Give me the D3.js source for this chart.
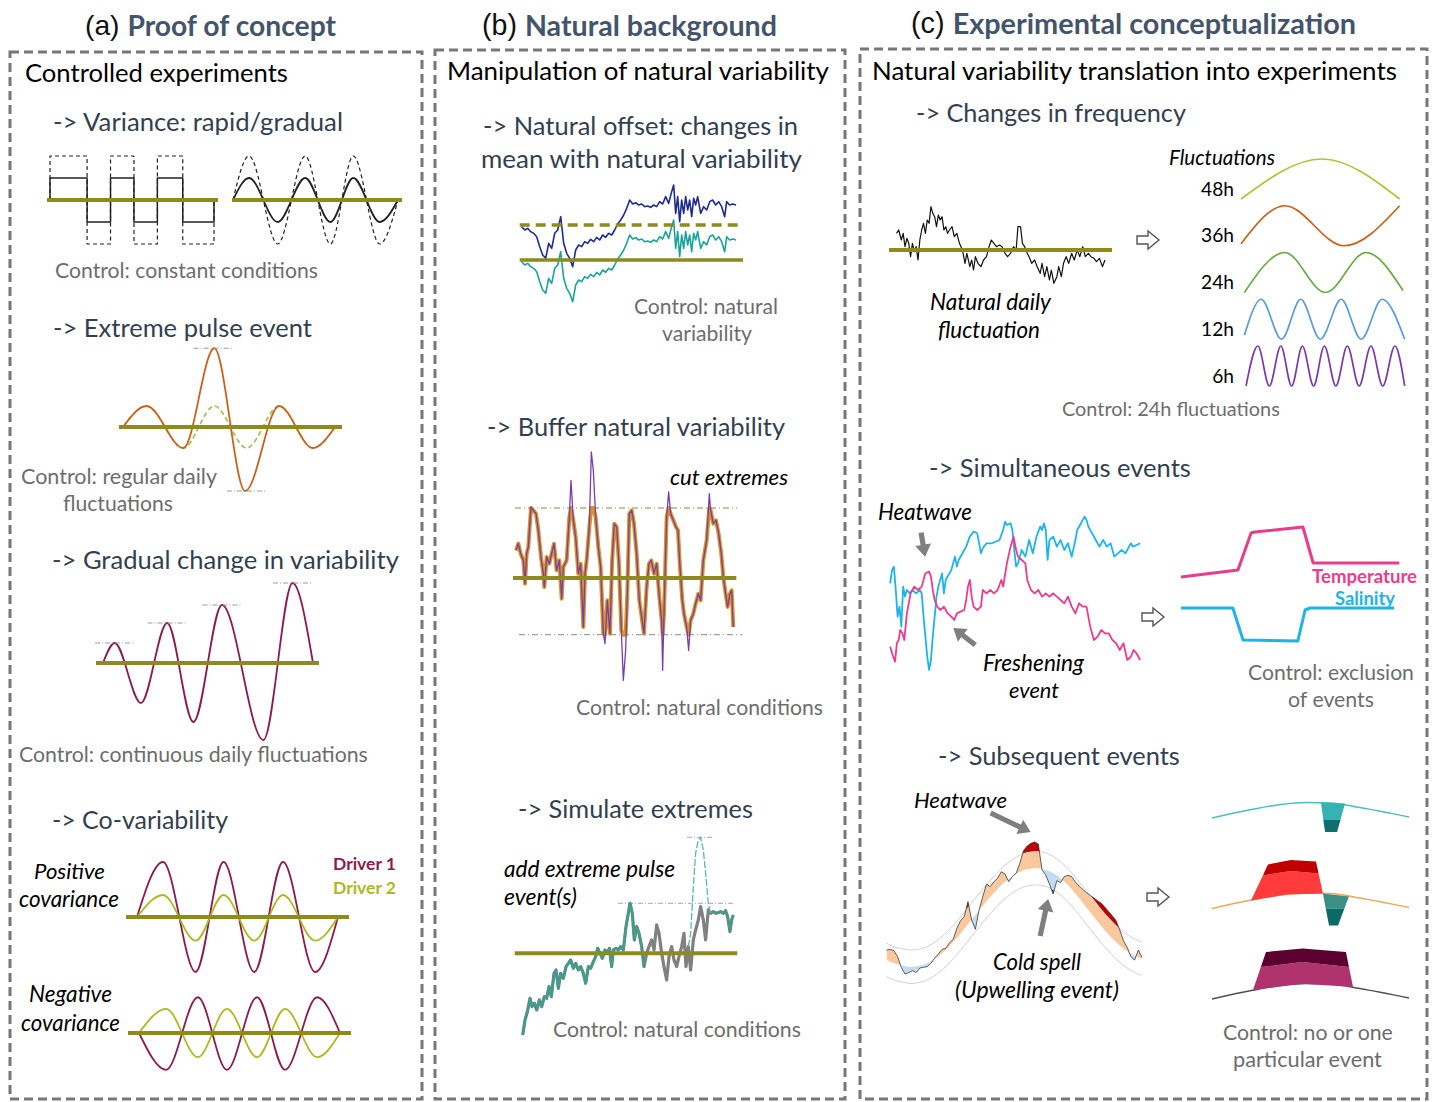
<!DOCTYPE html>
<html>
<head>
<meta charset="utf-8">
<script src="https://d3js.org/d3.v7.min.js"></script>
<style>
body { margin: 0; background: #fff; }
</style>
</head>
<body>
<svg id="fig" width="1432" height="1102"></svg>
<script>
// ---------------- data ----------------

// (a) variance: step levels and sine extremes (hours, level)
var squareSteps = [[0,0],[0,1],[9.5,-1],[15.5,1],[21.5,-1],[27.5,1],[34,-1],[42,0]];
var sineKeys = [[0,0],[7,1],[19.5,-1],[31.5,1],[42.5,-1],[52.5,1],[64,-1],[72,0]];
var varianceFactor = 2;

// (a) extreme pulse event
var pulseRegular = [[0,0],[8,1],[20.5,-1],[31,1],[42,-1],[53,1],[64.5,-1],[72,0]];
var pulseExtreme = [[0,0],[8,1],[20.5,-1],[31,3.75],[41.5,-3.05],[53,1],[64.5,-1],[72,0]];

// (a) gradual change in variability
var gradualKeys = [[0,0],[4,1],[13,-2],[22,2],[31,-2.95],[40.8,2.9],[55,-3.85],[65,4],[72,0]];

// (a) co-variability
var covPosD1 = [[0,0],[9.3,1],[21,-1],[31,1],[42,-1],[52.3,1],[63.8,-1],[72,0]];
var covPosD2 = [[0,0],[9.3,0.4],[21,-0.43],[31,0.4],[42,-0.43],[52.3,0.4],[63.8,-0.43],[72,0]];
var covNegD1 = [[0,0],[9.7,-0.67],[21.1,0.65],[31.5,-0.67],[42.3,0.65],[52.3,-0.67],[63.8,0.65],[72,0]];
var covNegD2 = [[0,0],[9.7,0.44],[21.1,-0.44],[31.5,0.44],[42.3,-0.44],[52.3,0.44],[63.8,-0.44],[72,0]];

// (b) natural offset: natural record (hours, value); shifted copy = record - offset
var offsetSeries = [[0,10],[9,9],[18,9.5],[27,8.5],[36,8],[45,7],[54,4],[63,1.5],[72,0.5],[81,5],[90,3.5],[99,8],[108,9],[117,13],[126,5],[135,2],[144,0.5],[153,-2],[162,3],[171,4.5],[180,4],[189,5.5],[198,5],[207,6.2],[216,5.5],[225,6.8],[234,6],[243,7.5],[252,6.8],[261,8],[270,7.5],[279,9],[288,10.8],[297,12],[306,13.5],[315,15.5],[324,18],[333,16.8],[342,17.2],[351,16.5],[360,16.8],[369,16],[378,16.2],[387,15.8],[396,16.5],[405,16],[414,17.5],[423,16.8],[432,19],[441,17],[450,20.5],[456,22.5],[462,14],[468,19],[474,11.5],[480,18],[486,14],[492,19],[498,15],[504,18],[510,13],[516,18.5],[522,16.5],[528,19],[537,14],[546,16],[555,15],[564,17.5],[573,18],[582,16.5],[591,17.5],[600,16],[609,13],[615,17.5],[624,16.5],[633,16.8],[643,16.5]];
var naturalOffset = 10.5;

// (b) buffer natural variability
var bufferSeries = [[0,8.3],[7,10.3],[14,7.3],[22,5.3],[27,-1.7],[32,7.3],[37,9.3],[45,21.3],[52,20.3],[60,19.3],[67,14.3],[75,6.3],[82,1.3],[85,-2.7],[92,6.3],[100,4.3],[107,7.3],[114,10.3],[122,2.3],[130,5.3],[137,-6.2],[142,3.3],[152,5.3],[160,18.3],[165,29.3],[172,17.3],[179,12.3],[187,1.3],[194,4.3],[202,-14.7],[207,1.3],[212,5.3],[220,15.3],[226,37.8],[232,32.3],[239,18.3],[247,9.3],[254,3.3],[262,-16.7],[267,-19.7],[274,-6.7],[282,-16.7],[288,4.3],[295,16.3],[302,15.3],[309,4.3],[316,-15.7],[322,-30.7],[329,-21.7],[334,-4.7],[340,19.3],[347,20.3],[354,16.3],[362,7.3],[370,-6.7],[377,-11.7],[384,-16.7],[392,-2.7],[399,4.3],[406,5.3],[414,1.3],[422,4.3],[430,-5.7],[437,-12.7],[440,-27.7],[444,-10.7],[452,18.3],[458,25.8],[464,19.3],[472,17.3],[480,15.3],[486,14.3],[492,3.3],[499,-6.7],[504,-10.7],[512,-14.7],[518,-21.7],[524,-12.7],[532,-10.7],[539,-7.7],[547,-4.7],[554,-6.7],[562,5.3],[572,11.3],[580,25.3],[584,20.3],[592,16.3],[600,17.3],[608,13.3],[616,7.3],[622,0.3],[629,-4.7],[635,-8.7],[642,-4.7],[647,-3.7],[652,-14.7]];
var cutHigh = 21, cutLow = -17;

// (b) simulate extremes
var simNatural = [[0,-24.5],[7,-20],[14,-17.5],[22,-13.5],[28,-16],[35,-15],[42,-17],[50,-14],[57,-16],[65,-13],[72,-13.5],[79,-10],[86,-13],[94,-6],[100,-5],[107,-10.5],[114,-6],[122,-7.5],[130,-4],[137,-3],[144,-2],[152,-4.5],[159,-3],[167,-5],[174,-4],[182,-6],[189,-9],[197,-4],[204,-4.5],[212,-2.5],[219,-1],[225,1.5],[232,0],[239,-1.5],[247,1],[254,0],[260,1.5],[267,-4],[272,1],[280,1.5],[287,1],[294,2],[302,1],[310,8],[317,12],[322,15],[329,12],[335,4],[342,8],[349,6],[357,2],[364,-4],[372,0],[379,2],[387,4],[394,1],[402,8.5],[409,6],[417,0],[424,-4],[432,-8],[439,-1],[447,2],[454,-2],[462,-4],[469,-1],[477,2],[484,6],[490,-4],[497,2],[504,-5],[512,4],[519,7],[527,10],[534,14],[542,10],[549,4],[557,13],[564,12],[572,12.5],[580,12],[587,12.2],[594,12.5],[602,12],[609,12.8],[615,11],[622,6.5],[627,10],[632,11.5]];
var simPulse = [[497,2],[504,6],[512,20],[519,30],[527,34],[534,34.8],[542,31],[549,24],[557,15],[564,12]];

// (c) natural daily fluctuation
var natDaily = [[0,5],[6,6],[13,3],[18,5],[23,1],[28,3.5],[33,2],[38,-2],[43,2],[48,-0.5],[53,1],[58,-3],[63,3],[68,6],[73,8],[78,5],[83,9],[88,8],[93,13],[98,11],[103,10],[108,7],[113,10.5],[118,9],[123,10],[128,6],[133,7],[138,5],[143,6],[150,7],[156,4],[163,5],[170,2],[178,0],[185,-4],[190,-1],[198,-5],[203,-3],[208,-6],[213,-2],[220,-4],[228,-5],[235,-3],[243,-2],[250,1],[256,3],[263,2],[270,1],[278,1.5],[285,1],[293,-1],[300,-2],[308,-1],[316,1],[323,0],[328,7],[335,7],[340,2],[346,1],[353,-1],[358,-2],[365,-4],[373,-3],[380,-5],[388,-7],[393,-4],[400,-8],[406,-5],[413,-9],[418,-6],[425,-10],[433,-8],[438,-5],[445,-8],[451,-4],[458,-2],[465,-4],[473,-1],[480,-3],[488,0],[495,-2],[503,1],[510,-2],[518,-1],[525,-2],[533,-2.5],[540,-3.5],[548,-2.5],[556,-5],[563,-3]];

// (c) fluctuation periods, extremes in hours
var freqLabels = ["48h", "36h", "24h", "12h", "6h"];
var freqKeys = [
  [[0,-1],[24,1],[47,-1]],
  [[0,-0.9],[13,1],[30.5,-1],[47,1]],
  [[1,-1],[13,1],[25,-1],[37,1],[48,-0.9]],
  [[1,-0.8],[6,1],[12,-1],[17.7,1],[23.5,-1],[29.7,1],[35.6,-1],[41.8,1],[48.5,-1]],
  [[1.5,-1],[5,1],[8.4,-1],[11.8,1],[15,-1],[18.2,1],[21.5,-1],[24.7,1],[28.1,-1],[31.5,1],[35,-1],[38.5,1],[42,-1],[45.6,1],[48.5,-1]]
];

// (c) simultaneous events
var simulSalinity = [[0,24],[5,28],[10,29],[15,22],[20,14],[25,17],[30,11],[35,23],[40,20],[45,22],[53,21],[60,22],[70,21],[80,22],[85,21],[90,14],[95,8],[100,2],[105,-2],[110,1],[115,8],[120,14],[125,20],[130,23],[135,25],[140,27],[145,21],[150,25],[155,26],[165,28],[170,30],[175,32],[180,29],[185,31],[195,33],[205,35],[215,38],[225,39.5],[235,39],[240,36],[245,33],[250,34.5],[260,36],[275,36],[295,37],[305,40],[310,42.5],[315,41.5],[325,42],[330,40],[335,34],[340,29],[345,30],[350,32],[355,34],[365,32],[375,37],[385,33],[395,38],[405,41],[410,40],[415,42],[420,40],[425,31],[430,37],[440,38],[450,35],[460,37],[470,34],[480,36],[490,32],[500,37],[505,40],[515,42],[525,44],[530,43],[535,41],[545,39],[555,37],[565,35],[575,37],[585,35],[595,36],[605,32],[615,33],[625,34],[635,33],[645,35],[650,36],[655,35],[665,35.5],[675,36]];
var simulTemperature = [[0,5],[5,3],[13,0.5],[18,6],[23,7],[27,10],[33,9],[38,7],[45,15],[55,21],[65,23],[75,22],[85,23],[95,27],[105,27.5],[110,26],[115,22],[120,19],[127,17],[135,16],[145,17],[155,15],[165,14],[173,13],[180,15],[190,15.5],[200,16],[205,19],[210,23],[215,25],[220,20],[225,17],[235,16],[245,17],[250,22],[260,21],[270,22],[280,21],[290,22],[300,25],[305,23],[315,30],[325,35],[333,38],[340,34],[345,32],[355,31],[365,30],[370,25],[380,22],[390,21],[400,22],[410,20],[420,21],[430,20],[440,21],[450,20],[460,19],[470,18],[480,20],[490,17],[500,15],[510,18],[520,17],[530,17],[540,11],[550,7],[560,8],[570,10],[580,9],[590,9],[600,7],[610,6],[620,4],[630,6],[640,1],[650,2],[657,4],[665,3],[675,1]];
var ctrlTemperature = [[0,2.3],[7.8,3.0],[9.6,6.7],[10.1,6.8],[16.7,7.3],[18.1,3.7],[29.9,3.7]];
var ctrlSalinity = [[0,-0.8],[7.1,-0.8],[8.5,-4],[16,-4.1],[17,-1],[17.7,-0.8],[29.2,-0.8]];

// (c) subsequent events: observed record and climatology, one value every 10 h
var subStep = 10;
var subObs = [6,6.2,5.8,4,0.8,-1.2,-0.8,-0.2,-0.8,0.6,0.8,1,2,3.6,4.8,6.2,6.5,8.2,9.2,12.5,14.8,16,20.5,15,12.2,18,22,25.8,25,26.5,27.5,29.5,28.8,26.5,28,29,32,35.8,37.2,38,38.4,37.8,30,28.5,25.8,22.8,26.8,26.2,28,28.4,28,26.4,25.2,24.2,23.2,22.4,21.6,20.8,20,18.8,17.5,16.2,14.8,12,8.8,6.8,4,3,6,3.8];
var subClim = [3,2.5,2,1.7,1.4,1.2,1,1,1.1,1.3,1.6,2,2.6,3.3,4.1,5,6,7.1,8.3,9.6,10.9,12.3,13.7,15.1,16.5,17.9,19.3,20.6,21.9,23.1,24.3,25.4,26.4,27.3,28.1,28.8,29.4,29.9,30.2,30.4,30.5,30.5,30.4,30.1,29.7,29.1,28.4,27.5,26.5,25.4,24.2,22.9,21.5,20.1,18.7,17.3,15.9,14.5,13.1,11.8,10.6,9.4,8.3,7.3,6.4,5.6,4.9,4.3,3.8,3.4];
var heatThreshold = 5, coldThreshold = -5;

// (c) control scenarios for subsequent events
var ctrlRows = ["cold", "heat+cold", "heat"];
var ctrlArc = [[0,0],[20,8.5],[35,13.5],[48,15.5],[60,15],[75,10.5],[100,1]];
var ctrlEvents = [
  {row: "cold", kind: "cold", light: [[55.3,15.5],[67.5,14.5],[65.2,-2],[56.5,-2]], dark: [[56.5,-2],[65.2,-2],[63.5,-14],[57.4,-14]]},
  {row: "heat+cold", kind: "heat", light: [[19.8,8],[38,14],[56.3,15],[54.1,35],[40,37.5],[25.8,33]], dark: [[25.8,33],[40,37.5],[54.1,35],[52.8,47],[40,48.5],[28.4,44]]},
  {row: "heat+cold", kind: "cold2", light: [[56.3,15],[69.5,12],[67.2,0],[57.75,0]], dark: [[57.75,0],[67.2,0],[64,-17],[59.4,-17]]},
  {row: "heat", kind: "purple", light: [[20.8,9],[46,15.3],[71.6,12],[69.5,32],[46,37],[24.8,32]], dark: [[24.8,32],[46,37],[69.5,32],[68,47],[46,50.5],[27.4,47]]}
];

// ---------------- styles ----------------
var FONT = "Lato, 'Open Sans', 'DejaVu Sans', sans-serif";
var C = {
  olive: "#8c8b1b", maroon: "#8b1c4e", drv2: "#a9ba1f", pulse: "#c8621a", regular: "#9cbf4f",
  navy: "#1f2b8e", teal: "#1aa29d", purple: "#7a3cb0", gold: "#d8961f",
  simGray: "#808080", simTeal: "#3e9d8b", cyan: "#1eb4ea", pink: "#eb3c8c",
  peach: "#f9c99d", heat: "#c00000", coolFill: "#c4dcf0", coolDark: "#1c3c96",
  head: "#44546a", sub: "#333f50", ctrl: "#6d6d6d", box: "#777777"
};
var freqColors = ["#a9c536", "#c8621c", "#6aaa44", "#5b9bd5", "#7b3aa8"];
var eventColors = {
  cold: ["#36b2b2", "#0f6e6e"], cold2: ["#3a8f86", "#0b6a66"],
  heat: ["#ff3b3b", "#c00000"], purple: ["#b0336f", "#5c0030"]
};
var rowLine = {"cold": "#4dbdbd", "heat+cold": "#f0a65c", "heat": "#505050"};

var svg = d3.select("#fig");

// ---------------- helpers ----------------
function lin(d0, d1, r0, r1) { return d3.scaleLinear().domain([d0, d1]).range([r0, r1]); }

function plot(data, xs, ys, o) {
  var gen = d3.line().x(function(d) { return xs(d[0]); }).y(function(d) { return ys(d[1]); })
    .curve(o.curve || d3.curveLinear);
  return svg.append("path").datum(data).attr("d", gen).attr("fill", "none")
    .attr("stroke", o.color).attr("stroke-width", o.width || 1.5)
    .attr("stroke-dasharray", o.dash || null)
    .attr("stroke-linejoin", "round")
    .attr("opacity", o.opacity || 1);
}

function rule(xs, ys, v, pad0, pad1, o) {
  var r = xs.range();
  return svg.append("line").attr("x1", r[0] - pad0).attr("x2", r[1] + pad1)
    .attr("y1", ys(v)).attr("y2", ys(v))
    .attr("stroke", o.color).attr("stroke-width", o.width)
    .attr("stroke-dasharray", o.dash || null);
}

function refMark(xs, ys, t0, t1, v, color) {
  svg.append("line").attr("x1", xs(t0)).attr("x2", xs(t1)).attr("y1", ys(v)).attr("y2", ys(v))
    .attr("stroke", color || "#9a9a9a").attr("stroke-width", 1).attr("stroke-dasharray", "5 2 1 2");
}

function fitText(sel, w) {
  var s = +sel.attr("font-size");
  var L = sel.node().getComputedTextLength();
  if (L > 0) sel.attr("font-size", (s * w / L).toFixed(2));
}

function label(x, cy, s, w, o) {
  o = o || {};
  var t = svg.append("text")
    .attr("x", x).attr("y", cy)
    .attr("dominant-baseline", "central")
    .attr("text-anchor", o.anchor || "start")
    .attr("font-family", FONT)
    .attr("font-size", o.size || 20)
    .attr("font-style", o.italic ? "italic" : "normal")
    .attr("font-weight", o.bold ? "bold" : "normal")
    .attr("fill", o.color || "#000")
    .text(s);
  if (w) fitText(t, w);
  return t;
}

function title(x, cy, pre, main, w) {
  var t = svg.append("text").attr("x", x).attr("y", cy)
    .attr("dominant-baseline", "central").attr("font-size", 28);
  t.append("tspan").attr("font-family", "'Liberation Sans', Arial, sans-serif").attr("fill", "#111").text(pre + " ");
  t.append("tspan").attr("font-family", FONT).attr("font-weight", "bold").attr("fill", C.head).text(main);
  fitText(t, w);
}

function pointer(tip, tail) {
  var dx = tip[0] - tail[0], dy = tip[1] - tail[1], L = Math.hypot(dx, dy);
  var ux = dx / L, uy = dy / L, px = -uy, py = ux;
  var hl = 12, hw = 8, sw = 2.6;
  var bx = tip[0] - ux * hl, by = tip[1] - uy * hl;
  var pts = [[tail[0] + px * sw, tail[1] + py * sw], [bx + px * sw, by + py * sw], [bx + px * hw, by + py * hw],
    tip, [bx - px * hw, by - py * hw], [bx - px * sw, by - py * sw], [tail[0] - px * sw, tail[1] - py * sw]];
  svg.append("polygon").attr("points", pts.map(function(p) { return p.join(","); }).join(" ")).attr("fill", "#7f7f7f");
}

function blockArrow(x, y) {
  var pts = [[x, y - 4], [x + 11, y - 4], [x + 11, y - 9], [x + 22, y], [x + 11, y + 9], [x + 11, y + 4], [x, y + 4]];
  svg.append("polygon").attr("points", pts.map(function(p) { return p.join(","); }).join(" "))
    .attr("fill", "#fff").attr("stroke", "#555").attr("stroke-width", 1.4);
}

function scaled(arr, f) { return arr.map(function(d) { return [d[0], d[1] * f]; }); }

// ---------------- panel frames ----------------
[[10, 52, 412, 1047], [435, 50, 410, 1049], [860, 49, 567, 1050]].forEach(function(b) {
  svg.append("rect").attr("x", b[0]).attr("y", b[1]).attr("width", b[2]).attr("height", b[3])
    .attr("fill", "none").attr("stroke", C.box).attr("stroke-width", 3).attr("stroke-dasharray", "9 5");
});

title(85, 25, "(a)", "Proof of concept", 251);
title(482, 25, "(b)", "Natural background", 295);
title(911, 23, "(c)", "Experimental conceptualization", 445);

label(25, 72, "Controlled experiments", 263);
label(447, 70, "Manipulation of natural variability", 382);
label(872, 70, "Natural variability translation into experiments", 525);

// ---------------- (a) variance ----------------
var xSq = lin(0, 42, 50, 214), xSn = lin(0, 72, 233, 398), yVar = lin(0, 1, 200, 178);
plot(scaled(squareSteps, varianceFactor), xSq, yVar, {color: "#222", width: 1.2, dash: "4 3", curve: d3.curveStepAfter});
plot(squareSteps, xSq, yVar, {color: "#222", width: 1.5, curve: d3.curveStepAfter});
plot(scaled(sineKeys, varianceFactor), xSn, yVar, {color: "#222", width: 1.2, dash: "4 3", curve: d3.curveMonotoneX});
plot(sineKeys, xSn, yVar, {color: "#222", width: 1.8, curve: d3.curveMonotoneX});
rule(xSq, yVar, 0, 3, 4, {color: C.olive, width: 4});
rule(xSn, yVar, 0, 1, 4, {color: C.olive, width: 4});
label(53, 121, "-> Variance: rapid/gradual", 290, {color: C.sub});
label(55, 270, "Control: constant conditions", 263, {color: C.ctrl});

// ---------------- (a) extreme pulse ----------------
var xPu = lin(0, 72, 123, 335), yPu = lin(0, 1, 427, 406);
plot(pulseRegular, xPu, yPu, {color: C.regular, width: 1.6, dash: "5 3", curve: d3.curveMonotoneX});
plot(pulseExtreme, xPu, yPu, {color: C.pulse, width: 1.8, curve: d3.curveMonotoneX});
rule(xPu, yPu, 0, 4, 7, {color: C.olive, width: 4});
refMark(xPu, yPu, 24, 37.5, d3.max(pulseExtreme, function(d) { return d[1]; }));
refMark(xPu, yPu, 35.3, 48.6, d3.min(pulseExtreme, function(d) { return d[1]; }));
label(53, 327, "-> Extreme pulse event", 259, {color: C.sub});
label(21, 476, "Control: regular daily", 196, {color: C.ctrl});
label(63, 503, "fluctuations", 110, {color: C.ctrl});

// ---------------- (a) gradual change ----------------
var xGr = lin(0, 72, 103, 313), yGr = lin(0, 1, 663, 643);
plot(gradualKeys, xGr, yGr, {color: C.maroon, width: 1.8, curve: d3.curveMonotoneX});
rule(xGr, yGr, 0, 7, 6, {color: C.olive, width: 4});
gradualKeys.filter(function(d) { return d[1] > 0; }).forEach(function(d) { refMark(xGr, yGr, d[0] - 6.7, d[0] + 6.7, d[1]); });
label(52, 559, "-> Gradual change in variability", 347, {color: C.sub});
label(19, 754, "Control: continuous daily fluctuations", 349, {color: C.ctrl});

// ---------------- (a) co-variability ----------------
var xCp = lin(0, 72, 137, 338), yCp = lin(0, 1, 917, 862);
var xCn = lin(0, 72, 139, 340), yCn = lin(0, 1, 1033, 978);
plot(covPosD1, xCp, yCp, {color: C.maroon, width: 1.8, curve: d3.curveMonotoneX});
plot(covPosD2, xCp, yCp, {color: C.drv2, width: 1.8, curve: d3.curveMonotoneX});
plot(covNegD1, xCn, yCn, {color: C.maroon, width: 1.8, curve: d3.curveMonotoneX});
plot(covNegD2, xCn, yCn, {color: C.drv2, width: 1.8, curve: d3.curveMonotoneX});
rule(xCp, yCp, 0, 11, 11, {color: C.olive, width: 4});
rule(xCn, yCn, 0, 11, 11, {color: C.olive, width: 4});
label(52, 819, "-> Co-variability", 176, {color: C.sub});
label(34, 870, "Positive", 71, {italic: true});
label(19, 898, "covariance", 100, {italic: true});
label(29, 993, "Negative", 83, {italic: true});
label(21, 1022, "covariance", 99, {italic: true});
label(333, 863, "Driver 1", 63, {bold: true, color: C.maroon});
label(333, 887, "Driver 2", 63, {bold: true, color: C.drv2});

// ---------------- (b) natural offset ----------------
var xOf = lin(0, 643, 521.7, 736), yOf = lin(0, 3, 260, 250);
plot(offsetSeries, xOf, yOf, {color: C.navy, width: 1.6});
plot(offsetSeries.map(function(d) { return [d[0], d[1] - naturalOffset]; }), xOf, yOf, {color: C.teal, width: 1.6});
rule(xOf, yOf, naturalOffset, 2, 7, {color: C.olive, width: 3.5, dash: "10 6"});
rule(xOf, yOf, 0, 2, 7, {color: C.olive, width: 3.5});
label(483, 125, "-> Natural offset: changes in", 315, {color: C.sub});
label(481, 158, "mean with natural variability", 321, {color: C.sub});
label(634, 305, "Control: natural", 144, {color: C.ctrl});
label(662, 333, "variability", 90, {color: C.ctrl});

// ---------------- (b) buffer ----------------
var xBu = lin(0, 652, 516, 733.3), yBu = lin(0, 3, 578, 568);
rule(xBu, yBu, cutHigh, 1, 4, {color: "#8a8a45", width: 1.2, dash: "6 3 1 3"});
rule(xBu, yBu, cutLow, -3, 9, {color: "#a0a0a0", width: 1.2, dash: "6 3 1 3"});
plot(bufferSeries.map(function(d) { return [d[0], Math.max(cutLow, Math.min(cutHigh, d[1]))]; }), xBu, yBu, {color: C.gold, width: 4});
plot(bufferSeries, xBu, yBu, {color: C.purple, width: 1.3});
rule(xBu, yBu, 0, 3, 3, {color: C.olive, width: 4});
label(487, 426, "-> Buffer natural variability", 298, {color: C.sub});
label(670, 476, "cut extremes", 118, {italic: true});
label(576, 707, "Control: natural conditions", 247, {color: C.ctrl});

// ---------------- (b) simulate extremes ----------------
var xSm = lin(0, 632, 522.7, 733.3), ySm = lin(0, 3, 953.3, 943.3);
var natMax = d3.max(simNatural, function(d) { return d[1]; });
var pulseMax = d3.max(simPulse, function(d) { return d[1]; });
refMark(xSm, ySm, 286, 637, natMax, "#a8a8a8");
refMark(xSm, ySm, 493, 568, pulseMax, "#a8a8a8");
plot(simNatural, xSm, ySm, {color: C.simGray, width: 3.2});
plot(simNatural.filter(function(d) { return d[0] <= 364; }), xSm, ySm, {color: C.simTeal, width: 2.4});
plot(simNatural.filter(function(d) { return d[0] >= 564; }), xSm, ySm, {color: C.simTeal, width: 2.2, opacity: 0.85});
plot(simPulse, xSm, ySm, {color: "#5cb8a8", width: 1.3, dash: "7 2"});
rule(xSm, ySm, 0, 8, 4, {color: C.olive, width: 4});
label(518, 808, "-> Simulate extremes", 235, {color: C.sub});
label(504, 868, "add extreme pulse", 171, {italic: true});
label(504, 896, "event(s)", 73, {italic: true});
label(553, 1029, "Control: natural conditions", 248, {color: C.ctrl});

// ---------------- (c) changes in frequency ----------------
var xNd = lin(0, 563, 896.5, 1105), yNd = lin(0, 3, 250, 240);
plot(natDaily, xNd, yNd, {color: "#111", width: 1.2});
rule(xNd, yNd, 0, 7.5, 7, {color: C.olive, width: 4});
blockArrow(xNd.range()[1] + 32, yNd(0) - 10);
label(916, 112, "-> Changes in frequency", 270, {color: C.sub});
label(930, 301, "Natural daily", 121, {italic: true});
label(938, 329, "fluctuation", 102, {italic: true});

var xFq = lin(0, 48, 1241, 1403);
var rowF = d3.scalePoint().domain(freqLabels).range([179, 366]);
var fqSize = null;
freqLabels.forEach(function(lab, i) {
  var yF = lin(0, 1, rowF(lab), rowF(lab) - 20);
  plot(freqKeys[i], xFq, yF, {color: freqColors[i], width: 1.7, curve: d3.curveMonotoneX});
  var t = label(1234, rowF(lab) + 9, lab, fqSize ? null : 33, {anchor: "end", size: fqSize || 20});
  if (!fqSize) fqSize = +t.attr("font-size");
});
label(1169, 157, "Fluctuations", 106, {italic: true});
label(1062, 408, "Control: 24h fluctuations", 218, {color: C.ctrl});

// ---------------- (c) simultaneous events ----------------
var xSe = lin(0, 675, 890.2, 1140.2), ySe = lin(0, 3, 663.3, 653.3);
plot(simulSalinity, xSe, ySe, {color: C.cyan, width: 1.8});
plot(simulTemperature, xSe, ySe, {color: C.pink, width: 1.8});
var xSc = lin(0, 30, 1181, 1400), ySc = lin(0, 1, 600, 590);
plot(ctrlTemperature, xSc, ySc, {color: C.pink, width: 3});
plot(ctrlSalinity, xSc, ySc, {color: C.cyan, width: 3});
blockArrow(xSc.range()[0] - 39, ySc(-1.7));
pointer([xSe(105) - 4, ySe(27.5) - 15], [xSe(105) - 8, ySe(27.5) - 39]);
pointer([xSe(173) - 1, ySe(13) + 8], [xSe(173) + 21, ySe(13) + 25]);
label(929, 467, "-> Simultaneous events", 262, {color: C.sub});
label(878, 511, "Heatwave", 94, {italic: true});
label(983, 662, "Freshening", 101, {italic: true});
label(1009, 689, "event", 50, {italic: true});
label(1417, 576, "Temperature", 105, {bold: true, color: C.pink, anchor: "end"});
label(1395, 598, "Salinity", 60, {bold: true, color: C.cyan, anchor: "end"});
label(1248, 672, "Control: exclusion", 166, {color: C.ctrl});
label(1288, 699, "of events", 86, {color: C.ctrl});

// ---------------- (c) subsequent events ----------------
var xSs = lin(0, (subObs.length - 1) * subStep, 886.5, 1142), ySs = lin(0, 30, 970, 870);
var rec = subObs.map(function(v, i) { return {t: i * subStep, o: v, c: subClim[i]}; });
var defs = svg.append("defs");
function clipArea(id, offset, upward) {
  var top = ySs.range()[1] - 80, bottom = ySs.range()[0] + 80;
  defs.append("clipPath").attr("id", id).append("path").attr("d",
    d3.area().x(function(d) { return xSs(d.t); })
      .y0(function(d) { return ySs(d.c + offset); })
      .y1(upward ? top : bottom)(rec));
}
clipArea("aboveClim", 0, true);
clipArea("belowClim", 0, false);
clipArea("aboveHeat", heatThreshold, true);
clipArea("belowCold", coldThreshold, false);
function band(offset, fill, clip) {
  svg.append("path").attr("d",
    d3.area().x(function(d) { return xSs(d.t); })
      .y0(function(d) { return ySs(d.c + offset); })
      .y1(function(d) { return ySs(d.o); })(rec))
    .attr("fill", fill).attr("clip-path", "url(#" + clip + ")");
}
band(0, C.peach, "aboveClim");
band(0, C.coolFill, "belowClim");
band(heatThreshold, C.heat, "aboveHeat");
band(coldThreshold, C.coolDark, "belowCold");
[heatThreshold, coldThreshold].forEach(function(off) {
  plot(rec.map(function(d) { return [d.t, d.c + off]; }), xSs, ySs, {color: "#dadada", width: 1});
});
plot(rec.map(function(d) { return [d.t, d.o]; }), xSs, ySs, {color: "#3a3a3a", width: 0.8});
blockArrow(xSs.range()[1] + 5, 897);
pointer([xSs(400) - 4, ySs(38.4) - 10], [xSs(400) - 44, ySs(38.4) - 29]);
pointer([xSs(450) - 5, ySs(22.8) + 5], [xSs(450) - 13, ySs(22.8) + 42]);
label(938, 755, "-> Subsequent events", 242, {color: C.sub});
label(914, 799, "Heatwave", 93, {italic: true});
label(993, 961, "Cold spell", 88, {italic: true});
label(955, 989, "(Upwelling event)", 164, {italic: true});

var xCt = lin(0, 100, 1212, 1409);
var rowC = d3.scalePoint().domain(ctrlRows).range([818, 999]);
ctrlRows.forEach(function(r) {
  var yR = lin(0, 1, rowC(r), rowC(r) - 1);
  plot(ctrlArc, xCt, yR, {color: rowLine[r], width: 1.5, curve: d3.curveMonotoneX});
});
ctrlEvents.forEach(function(ev) {
  var yR = lin(0, 1, rowC(ev.row), rowC(ev.row) - 1);
  var poly = d3.line().x(function(d) { return xCt(d[0]); }).y(function(d) { return yR(d[1]); }).curve(d3.curveLinearClosed);
  svg.append("path").attr("d", poly(ev.light)).attr("fill", eventColors[ev.kind][0]);
  svg.append("path").attr("d", poly(ev.dark)).attr("fill", eventColors[ev.kind][1]);
});
label(1223, 1032, "Control: no or one", 170, {color: C.ctrl});
label(1233, 1059, "particular event", 149, {color: C.ctrl});
</script>
</body>
</html>
